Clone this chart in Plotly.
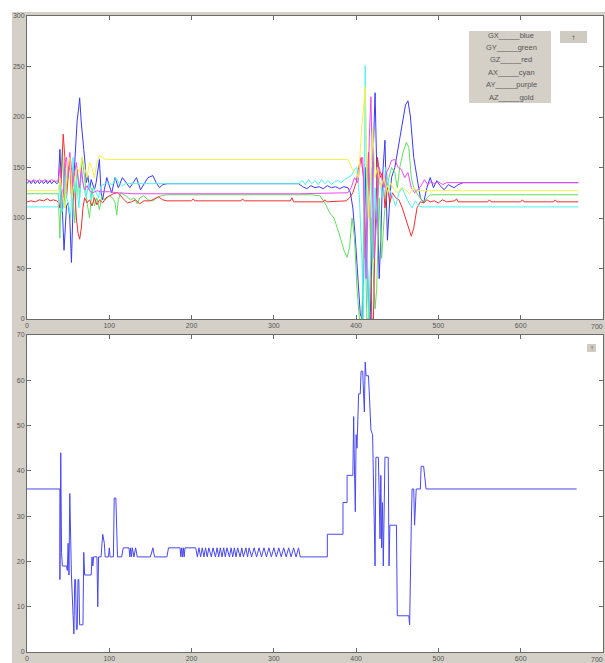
import plotly.graph_objects as go

W, H = 605, 663

# ---- top panel: six IMU channels (vertex lists) ----
gx_x = [0, 3, 5, 8, 10, 13, 15, 18, 20, 23, 25, 28, 30, 33, 36, 38,
        40, 42, 45, 48, 50, 52, 54, 57, 59, 61, 63, 64, 66, 68, 69, 71, 72, 74, 76, 78, 80, 82, 84, 86, 88,
        90, 92, 94, 97, 100, 103, 107, 111, 116, 120, 125, 129, 133, 138, 143, 147, 153, 157, 161, 165, 170,
        330, 335, 340, 345, 350, 355, 360, 365, 370, 375, 380, 385, 390,
        393, 396, 399, 402, 405, 407, 409, 411, 413, 415, 417, 419, 421, 423, 425, 428, 430, 432, 435, 438,
        441, 443, 447, 451, 455, 460, 463, 466, 470, 474, 478, 482, 486, 490, 494, 498, 502, 507, 512, 519,
        524, 530, 670]
gx_y = [134, 137, 134, 137, 134, 137, 134, 137, 134, 137, 134, 137, 134, 137, 134, 135,
        168, 120, 68, 112, 115, 100, 56, 140, 170, 197, 210, 219, 194, 180, 168, 150, 135, 142, 128, 138, 132, 128, 135, 145, 158,
        125, 118, 128, 140, 132, 125, 140, 130, 140, 135, 130, 135, 140, 128, 135, 140, 142, 135, 130, 133, 134,
        134, 131, 129, 132, 130, 131, 129, 132, 130, 131, 129, 131, 130,
        125, 110, 80, 40, 5, 0, 40, 150, 90, 10, 0, 60, 170, 224, 150, 40, 80, 140, 177, 78,
        120, 140, 150, 170, 190, 212, 216, 200, 160, 140, 120, 115, 130, 140, 130, 137, 132, 128, 133, 130,
        133, 135, 135]

gy_x = [0, 38, 40, 43, 46, 49, 52, 55, 58, 61, 64, 67, 70, 73, 76, 79, 82, 85, 88, 91, 95, 100, 104, 107,
        109, 111, 114, 120, 126, 130, 134, 137, 142, 147, 153, 158, 163, 170, 330, 345, 356, 362, 368, 373,
        378, 383, 386, 389, 392, 395, 398, 401, 404, 407, 410, 413, 416, 419, 421, 423, 425, 428, 431, 434,
        437, 440, 443, 447, 450, 453, 457, 461, 464, 467, 470, 474, 478, 482, 486, 490, 670]
gy_y = [124, 124, 80, 170, 110, 145, 150, 128, 95, 150, 120, 160, 140, 115, 100, 130, 112, 120, 108, 122, 118, 122, 120, 115,
        103, 118, 125, 122, 118, 120, 114, 120, 122, 118, 117, 120, 122, 123, 123, 123, 122, 115, 105, 100,
        88, 75, 66, 61, 71, 100, 80, 30, 0, 0, 120, 0, 0, 100, 40, 10, 30, 120, 60, 100,
        130, 140, 150, 145, 130, 150, 165, 175, 170, 140, 130, 124, 120, 115, 120, 123, 123]

gz_x = [0, 5, 10, 15, 20, 25, 28, 32, 36, 38, 40, 42, 44, 46, 48, 50, 52, 54, 56, 58, 60, 62, 64, 66, 68, 70,
        73, 76, 79, 82, 85, 88, 92, 96, 100, 105, 110, 114, 118, 122, 127, 132, 137, 142, 150, 156, 160, 165,
        170, 200, 202, 204, 260, 262, 264, 320, 322, 324, 360, 362, 364, 388, 392, 396, 400, 403, 406, 409,
        411, 413, 415, 417, 419, 421, 423, 426, 429, 432, 435, 438, 441, 444, 448, 452, 456, 460, 464, 467,
        470, 474, 478, 482, 486, 490, 495, 500, 505, 510, 520, 522, 524, 560, 562, 564, 600, 602, 604, 640,
        642, 644, 670]
gz_y = [116, 117, 116, 118, 117, 119, 117, 118, 117, 116, 110, 150, 183, 160, 120, 140, 160, 120, 150, 130, 100, 85, 79, 90, 110, 120,
        115, 118, 112, 120, 113, 118, 115, 120, 122, 124, 125, 122, 118, 115, 116, 118, 114, 117, 117, 119, 121, 118,
        117, 117, 119, 117, 117, 119, 117, 117, 120, 116, 116, 118, 116, 117, 120, 125, 135, 150, 160, 140,
        60, 120, 165, 100, 0, 0, 80, 160, 140, 145, 110, 130, 115, 125, 120, 118, 110, 100, 90, 82,
        90, 110, 116, 115, 118, 116, 117, 115, 118, 116, 117, 119, 116, 116, 118, 116, 116, 118, 116, 116,
        118, 116, 116]

ax_x = [0, 38, 40, 42, 44, 46, 48, 50, 53, 56, 58, 60, 63, 66, 69, 72, 75, 78, 81, 84, 87, 90, 95, 100, 104,
        108, 112, 116, 120, 330, 332, 335, 338, 342, 346, 350, 354, 358, 362, 366, 370, 374, 378, 382, 386,
        390, 394, 398, 401, 404, 407, 409, 411, 413, 415, 417, 419, 421, 423, 425, 428, 432, 436, 440, 444,
        448, 452, 456, 460, 464, 468, 472, 476, 480, 670]
ax_y = [111, 111, 140, 105, 110, 150, 120, 115, 100, 160, 125, 140, 110, 145, 130, 120, 135, 118, 130, 125, 120, 132, 134, 134, 133,
        140, 134, 132, 134, 134, 135, 137, 133, 138, 134, 137, 133, 138, 134, 137, 133, 136, 137, 135, 138,
        140, 142, 148, 150, 120, 60, 0, 251, 100, 0, 40, 150, 60, 130, 100, 140, 120, 150, 130, 120,
        112, 125, 130, 122, 115, 110, 117, 112, 111, 111]

ay_x = [0, 5, 8, 12, 15, 18, 22, 26, 30, 34, 38, 40, 42, 44, 46, 48, 50, 52, 54, 56, 58, 60, 62, 64, 66, 68,
        70, 73, 76, 80, 85, 90, 100, 110, 130, 200, 330, 390, 394, 398, 402, 405, 408, 410, 412, 414, 416,
        418, 420, 422, 425, 428, 431, 434, 437, 440, 443, 447, 451, 455, 459, 463, 467, 471, 475, 479, 483,
        487, 491, 495, 500, 505, 510, 670]
ay_y = [138, 136, 138, 136, 138, 136, 138, 136, 138, 136, 137, 150, 130, 120, 155, 160, 140, 165, 150, 130, 145, 155, 140, 130, 150, 135,
        128, 132, 127, 125, 127, 126, 126, 125, 124, 124, 124, 125, 130, 140, 135, 155, 160, 110, 40, 100, 180,
        220, 140, 60, 100, 150, 140, 130, 145, 150, 157, 158, 150, 148, 140, 145, 130, 125, 128, 132, 138,
        133, 136, 134, 136, 133, 135, 135]

az_x = [0, 38, 40, 43, 46, 49, 52, 55, 58, 61, 64, 67, 70, 73, 76, 79, 82, 85, 88, 91, 95, 390, 393, 396,
        400, 403, 406, 409, 411, 413, 415, 417, 420, 423, 426, 430, 434, 438, 442, 446, 450, 455, 460, 465,
        470, 475, 670]
az_y = [127, 127, 140, 125, 110, 150, 160, 120, 140, 150, 145, 160, 150, 140, 155, 150, 140, 155, 162, 160, 158, 158, 152, 147,
        145, 140, 180, 210, 230, 150, 100, 130, 190, 140, 150, 130, 140, 125, 135, 128, 125, 130, 128, 124,
        130, 127, 127]

# ---- bottom panel: single step signal ----
b_x = [0, 40, 40, 41, 42, 43, 48, 49, 50, 51, 52, 53, 54, 56, 57, 58, 59, 60, 61, 62, 63, 64, 68, 69, 70, 78,
       79, 80, 81, 85, 86, 87, 90, 92, 94, 95, 99, 100, 101, 105, 106, 108, 110, 115, 117, 124, 125, 126, 127,
       128, 130, 132, 134, 150, 153, 155, 170, 172, 186, 187, 188, 189, 190, 191, 192, 205, 207, 209, 211,
       213, 215, 217, 219, 221, 224, 226, 229, 231, 233, 235, 237, 239, 241, 243, 246, 248, 250, 252, 254,
       256, 259, 261, 263, 266, 268, 270, 273, 276, 279, 282, 285, 288, 291, 294, 297, 300, 303, 306, 309,
       312, 315, 318, 321, 324, 327, 330, 332, 365, 365, 384, 384, 389, 389, 396, 397, 398, 399, 400, 401,
       403, 405, 406, 408, 409, 410, 411, 412, 415, 416, 418, 420, 422, 423, 424, 427, 428, 429, 430, 431,
       432, 433, 435, 439, 440, 441, 449, 450, 464, 465, 467, 468, 470, 471, 473, 478, 479, 482, 485, 668]
b_y = [36, 36, 16, 44, 22, 19, 19, 18, 24, 17, 35, 24, 17, 8, 4, 16, 16, 5, 5, 16, 16, 6, 6, 22, 17, 17,
       21, 19, 21, 21, 10, 21, 21, 26, 24, 21, 21, 23, 21, 21, 34, 34, 21, 21, 23, 23, 21, 23, 21,
       23, 21, 23, 21, 21, 23, 21, 21, 23, 23, 21, 23, 21, 23, 21, 23, 23, 21, 23, 21,
       23, 21, 23, 21, 23, 21, 23, 21, 23, 21, 23, 21, 23, 21, 23, 21, 23, 21, 23, 21,
       23, 21, 23, 21, 23, 21, 23, 21, 23, 21, 23, 21, 23, 21, 23, 21, 23, 21, 23, 21,
       23, 21, 23, 21, 23, 21, 23, 21, 21, 26, 26, 33, 33, 39, 39, 52, 40, 31, 48, 45,
       57, 57, 62, 62, 57, 53, 64, 61, 61, 57, 49, 48, 30, 19, 43, 43, 35, 25, 39, 23,
       33, 19, 43, 43, 19, 28, 28, 8, 8, 6, 28, 36, 36, 28, 36, 36, 41, 41, 36, 36]

x_ticks = [0, 100, 200, 300, 400, 500, 600, 700]
top_y_ticks = [0, 50, 100, 150, 200, 250, 300]
bot_y_ticks = [0, 10, 20, 30, 40, 50, 60, 70]

legend_lines = ["GX_____blue", "GY_____green", "GZ_____red",
                "AX_____cyan", "AY_____purple", "AZ_____gold"]

series = [
    (gx_x, gx_y, "#3a3af2"),
    (gy_x, gy_y, "#62dd62"),
    (gz_x, gz_y, "#f03030"),
    (ax_x, ax_y, "#4ef2f2"),
    (ay_x, ay_y, "#f048f0"),
    (az_x, az_y, "#f2f24a"),
]

GREY = "#d4d0c8"
AXC = "#6a6a6a"
FONT = "Liberation Sans, Arial, sans-serif"

def px_x(p):
    return p / W

def px_y(p):
    return 1 - p / H

fig = go.Figure()
for xs, ys, c in series:
    fig.add_trace(go.Scatter(x=xs, y=ys, mode="lines", line=dict(color=c, width=1),
                             xaxis="x", yaxis="y", showlegend=False, hoverinfo="skip"))
fig.add_trace(go.Scatter(x=b_x, y=b_y, mode="lines", line=dict(color="#4848f0", width=1),
                         xaxis="x2", yaxis="y2", showlegend=False, hoverinfo="skip"))

tick_font = dict(family=FONT, size=7, color="#555555")
common_x = dict(range=[0, 700], tickvals=x_ticks, ticks="inside", ticklen=4, tickcolor=AXC,
                showline=True, linecolor=AXC, linewidth=1, mirror="ticks", showgrid=False,
                zeroline=False, tickfont=tick_font, automargin=False, fixedrange=True)
common_y = dict(ticks="inside", ticklen=4, tickcolor=AXC, showline=True, linecolor=AXC, linewidth=1,
                mirror="ticks", showgrid=False, zeroline=False, tickfont=tick_font,
                automargin=False, fixedrange=True)

dom_x = [px_x(27), px_x(603)]
fig.update_layout(
    width=W, height=H,
    margin=dict(l=0, r=0, t=0, b=0),
    paper_bgcolor=GREY, plot_bgcolor="white",
    template="none",
    xaxis=dict(domain=dom_x, anchor="y", **common_x),
    yaxis=dict(domain=[px_y(319), px_y(16)], anchor="x", range=[0, 300], tickvals=top_y_ticks, **common_y),
    xaxis2=dict(domain=dom_x, anchor="y2", **common_x),
    yaxis2=dict(domain=[px_y(652), px_y(335)], anchor="x2", range=[0, 70], tickvals=bot_y_ticks, **common_y),
)

shapes = [
    # white border strips around the grey figure window
    dict(type="rect", xref="paper", yref="paper", x0=0, x1=px_x(12), y0=0, y1=1,
         fillcolor="white", line=dict(width=0), layer="below"),
    dict(type="rect", xref="paper", yref="paper", x0=0, x1=1, y0=px_y(12), y1=1,
         fillcolor="white", line=dict(width=0), layer="below"),
    # legend panel
    dict(type="rect", xref="paper", yref="paper", x0=px_x(469), x1=px_x(551), y0=px_y(103), y1=px_y(31),
         fillcolor=GREY, line=dict(width=0), layer="above"),
    # small buttons
    dict(type="rect", xref="paper", yref="paper", x0=px_x(560), x1=px_x(587), y0=px_y(43), y1=px_y(31),
         fillcolor="#cfcbc3", line=dict(width=0), layer="above"),
    dict(type="rect", xref="paper", yref="paper", x0=px_x(587), x1=px_x(596), y0=px_y(352), y1=px_y(344),
         fillcolor="#cfcbc3", line=dict(width=0), layer="above"),
]
fig.update_layout(shapes=shapes)

annotations = []
for i, t in enumerate(legend_lines):
    annotations.append(dict(text=t, xref="paper", yref="paper", x=px_x(511), y=px_y(35 + i * 12.4),
                            xanchor="center", yanchor="middle", showarrow=False,
                            font=dict(family=FONT, size=7.5, color="#555555")))
annotations.append(dict(text="↑", xref="paper", yref="paper", x=px_x(573.5), y=px_y(37),
                        xanchor="center", yanchor="middle", showarrow=False,
                        font=dict(family="DejaVu Sans", size=6, color="#666666")))
annotations.append(dict(text="↑", xref="paper", yref="paper", x=px_x(591.5), y=px_y(348),
                        xanchor="center", yanchor="middle", showarrow=False,
                        font=dict(family="DejaVu Sans", size=5, color="#666666")))
# last x tick label, tucked against the right edge of each panel
for ya in ("y", "y2"):
    annotations.append(dict(text=str(x_ticks[-1]), xref="paper", yref=ya + " domain", x=1, y=0,
                            xanchor="right", yanchor="top", yshift=-2, showarrow=False,
                            font=tick_font))
fig.update_layout(annotations=annotations)

fig.write_html("out.html")
